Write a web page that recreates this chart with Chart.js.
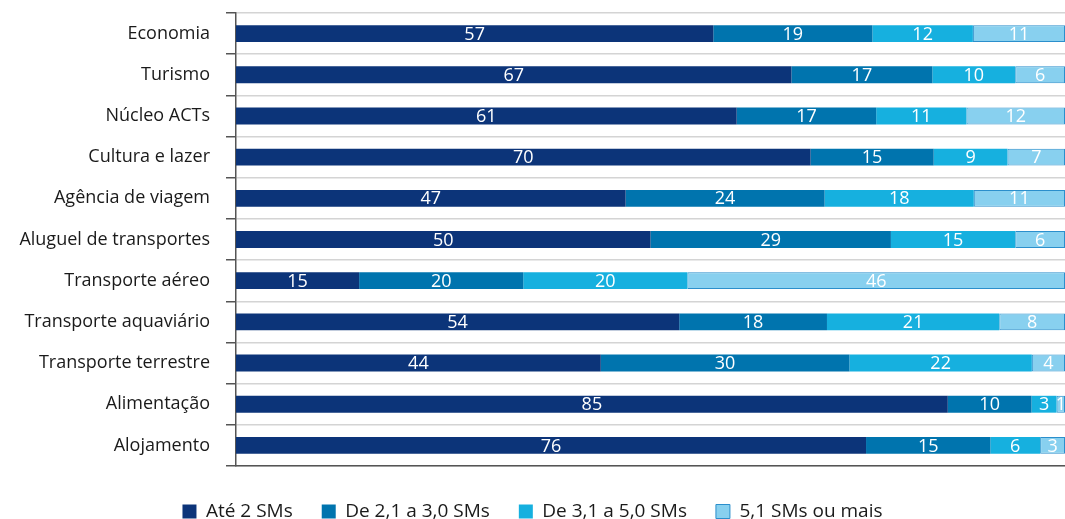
<!DOCTYPE html>
<html>
<head>
<meta charset="utf-8">
<script src="https://cdn.jsdelivr.net/npm/chart.js@4.4.1/dist/chart.umd.min.js"></script>
<style>
  html, body { margin: 0; padding: 0; background: #fff; }
  #wrap { width: 1065px; height: 519px; position: relative; }
</style>
</head>
<body>
<div id="wrap"><canvas id="chart"></canvas></div>
<script>
// categorias e valores (%)
const categories = ['Economia', 'Turismo', 'Núcleo ACTs', 'Cultura e lazer', 'Agência de viagem',
  'Aluguel de transportes', 'Transporte aéreo', 'Transporte aquaviário', 'Transporte terrestre',
  'Alimentação', 'Alojamento'];
const seriesNames = ['Até 2 SMs', 'De 2,1 a 3,0 SMs', 'De 3,1 a 5,0 SMs', '5,1 SMs ou mais'];
const ate2  = [57, 67, 61, 70, 47, 50, 15, 54, 44, 85, 76];
const de2a3 = [19, 17, 17, 15, 24, 29, 20, 18, 30, 10, 15];
const de3a5 = [12, 10, 11,  9, 18, 15, 20, 21, 22,  3,  6];
const mais5 = [11,  6, 12,  7, 11,  6, 46,  8,  4,  1,  3];

const colors  = ['#0c3479', '#0074ae', '#16b0df', '#88d0ef'];
const borders = ['#0c3479', '#0074ae', '#16b0df', '#2b8fcc'];
const raw = [ate2, de2a3, de3a5, mais5];

// cada barra ocupa 100% do total da linha
const totals = categories.map((c, i) => raw.reduce((s, arr) => s + arr[i], 0));

const FONT = "'Open Sans', 'Noto Sans', sans-serif";

const barLabels = {
  id: 'barLabels',
  afterDatasetsDraw(chart) {
    const ctx = chart.ctx;
    ctx.save();
    ctx.fillStyle = '#fff';
    ctx.font = '18px ' + FONT;
    ctx.textAlign = 'center';
    ctx.textBaseline = 'middle';
    chart.data.datasets.forEach((ds, di) => {
      chart.getDatasetMeta(di).data.forEach((bar, i) => {
        const x = (bar.x + bar.base) / 2;
        ctx.fillText(String(raw[di][i]), x, bar.y + 1);
      });
    });
    ctx.restore();
  }
};

new Chart(document.getElementById('chart'), {
  type: 'bar',
  data: {
    labels: categories,
    datasets: raw.map((arr, di) => ({
      label: seriesNames[di],
      data: arr.map((v, i) => v / totals[i] * 100),
      backgroundColor: colors[di],
      borderColor: borders[di],
      borderWidth: di === 3 ? 1 : 0,
      borderSkipped: false,
      categoryPercentage: 1,
      barPercentage: 0.41
    }))
  },
  options: {
    indexAxis: 'y',
    responsive: true,
    maintainAspectRatio: false,
    animation: false,
    layout: { padding: { top: 13, right: 0, left: 0, bottom: -12 } },
    plugins: {
      tooltip: { enabled: false },
      legend: {
        position: 'bottom',
        labels: {
          boxWidth: 14,
          boxHeight: 14,
          padding: 29,
          color: '#1a1a1a',
          font: { family: FONT, size: 19 }
        }
      }
    },
    scales: {
      x: {
        stacked: true,
        min: 0,
        max: 100,
        ticks: { display: false },
        grid: { display: false },
        border: { display: true, color: '#555', width: 1.5 },
        afterFit(s) { s.height = 7; }
      },
      y: {
        stacked: true,
        grid: {
          offset: true,
          color: '#d4d4d4',
          tickColor: '#555',
          tickLength: 10,
          lineWidth: 1.5
        },
        border: { color: '#555', width: 1.5 },
        ticks: {
          color: '#1a1a1a',
          padding: 16,
          font: { family: FONT, size: 18 }
        },
        afterFit(s) {
          s.width = 236;
          s.paddingTop = 0;
          s.paddingBottom = 0;
        }
      }
    }
  },
  plugins: [barLabels]
});
</script>
</body>
</html>
